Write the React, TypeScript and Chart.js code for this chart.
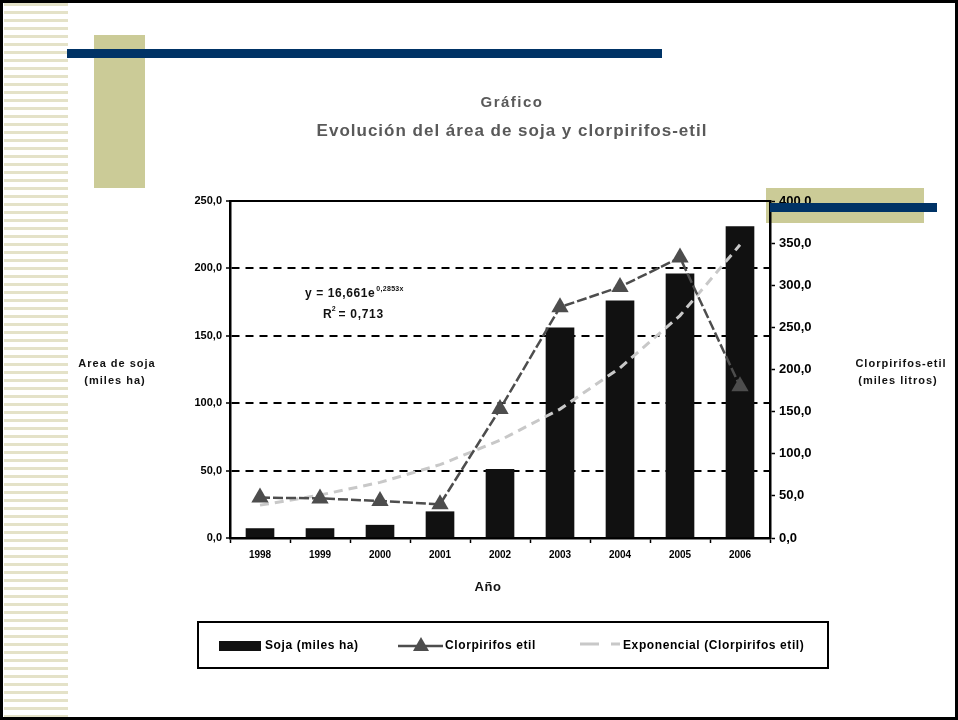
import React, { useEffect, useRef } from 'react';
import { Chart, registerables } from 'chart.js';

Chart.register(...registerables);

const years = ['1998', '1999', '2000', '2001', '2002', '2003', '2004', '2005', '2006'];
const sojaArea = [7, 7, 9.5, 19.5, 51, 156, 176, 196, 231];
const clorpirifos = [48, 47, 44, 40, 153, 274, 298, 333, 180];
const exponencial = [39, 51, 66, 87, 116, 153, 202, 264, 348];
const leftTicks = [0, 50, 100, 150, 200, 250];
const rightTicks = [0, 50, 100, 150, 200, 250, 300, 350, 400];
const titleLines = ['Gráfico', 'Evolución del área de soja y clorpirifos-etil'];
const leftTitle = ['Area de soja', '(miles ha)'];
const rightTitle = ['Clorpirifos-etil', '(miles litros)'];
const xTitle = 'Año';
const legendLabels = ['Soja (miles ha)', 'Clorpirifos etil', 'Exponencial (Clorpirifos etil)'];
const eqMain = 'y = 16,661e';
const eqExp = '0,2853x';
const r2Text = ['R', '2', ' = 0,713'];

const FONT = "'Liberation Sans', Arial, sans-serif";
const fmt = (v: number) => v.toFixed(1).replace('.', ',');

function txt(ctx: any, s: string, x: number, y: number, size: number, color: string, align: string, spacing = 0) {
  ctx.font = `bold ${size}px ${FONT}`;
  ctx.fillStyle = color;
  ctx.textAlign = align;
  ctx.textBaseline = 'middle';
  ctx.letterSpacing = `${spacing}px`;
  ctx.fillText(s, x, y);
  const w = ctx.measureText(s).width;
  ctx.letterSpacing = '0px';
  return w;
}

const overlayPlugin = {
  id: 'overlay',
  afterDraw(chart: any) {
    const ctx = chart.ctx;
    const { left, right, top } = chart.chartArea;
    ctx.save();
    // top frame of plot area
    ctx.strokeStyle = '#000';
    ctx.lineWidth = 2;
    ctx.beginPath();
    ctx.moveTo(left, top);
    ctx.lineTo(right, top);
    ctx.stroke();

    // titles
    txt(ctx, titleLines[0], 512, 103, 15, '#595959', 'center', 1.5);
    txt(ctx, titleLines[1], 512, 131, 17, '#595959', 'center', 1);

    // axis titles
    txt(ctx, leftTitle[0], 117, 364, 11, '#111', 'center', 1);
    txt(ctx, leftTitle[1], 115, 381, 11, '#111', 'center', 1);
    txt(ctx, rightTitle[0], 901, 364, 11, '#111', 'center', 1);
    txt(ctx, rightTitle[1], 898, 381, 11, '#111', 'center', 1);
    txt(ctx, xTitle, 488, 587, 13, '#111', 'center', 0.5);

    // trendline equation
    let w = txt(ctx, eqMain, 305, 294, 12, '#111', 'left', 0.6);
    txt(ctx, eqExp, 305 + w + 1, 289, 7, '#111', 'left', 0.3);
    w = txt(ctx, r2Text[0], 323, 315, 12, '#111', 'left', 0);
    const w2 = txt(ctx, r2Text[1], 323 + w, 309, 7, '#111', 'left', 0);
    txt(ctx, r2Text[2], 323 + w + w2 - 1, 315, 12, '#111', 'left', 0.7);

    // legend
    const ds = chart.data.datasets;
    ctx.strokeStyle = '#000';
    ctx.lineWidth = 2;
    ctx.strokeRect(198, 622, 630, 46);
    const ly = 646;
    ctx.fillStyle = ds[0].backgroundColor;
    ctx.fillRect(219, ly - 5, 42, 10);
    txt(ctx, legendLabels[0], 265, ly, 12, '#000', 'left', 0.6);

    ctx.strokeStyle = ds[1].borderColor;
    ctx.lineWidth = 2.5;
    ctx.setLineDash([]);
    ctx.beginPath();
    ctx.moveTo(398, ly);
    ctx.lineTo(443, ly);
    ctx.stroke();
    ctx.fillStyle = ds[1].pointBackgroundColor;
    ctx.beginPath();
    ctx.moveTo(421, ly - 9);
    ctx.lineTo(429, ly + 5);
    ctx.lineTo(413, ly + 5);
    ctx.closePath();
    ctx.fill();
    txt(ctx, legendLabels[1], 445, ly, 12, '#000', 'left', 0.6);

    ctx.strokeStyle = ds[2].borderColor;
    ctx.lineWidth = 3;
    ctx.setLineDash([19, 12]);
    ctx.beginPath();
    ctx.moveTo(580, ly - 2);
    ctx.lineTo(620, ly - 2);
    ctx.stroke();
    ctx.setLineDash([]);
    txt(ctx, legendLabels[2], 623, ly, 12, '#000', 'left', 0.6);

    ctx.restore();
  },
};

export default function App() {
  const ref = useRef<HTMLCanvasElement>(null);

  useEffect(() => {
    if (!ref.current) return;
    const chart = new Chart(ref.current, {
      type: 'bar',
      data: {
        labels: years,
        datasets: [
          {
            type: 'bar',
            label: legendLabels[0],
            data: sojaArea,
            backgroundColor: '#111111',
            borderWidth: 0,
            barThickness: 28,
            yAxisID: 'y',
            order: 3,
          },
          {
            type: 'line',
            label: legendLabels[1],
            data: clorpirifos,
            borderColor: '#4d4d4d',
            borderWidth: 2.5,
            borderDash: [10, 3],
            pointStyle: 'triangle',
            pointRadius: 10,
            pointBackgroundColor: '#4d4d4d',
            pointBorderWidth: 0,
            tension: 0,
            yAxisID: 'y1',
            order: 1,
          },
          {
            type: 'line',
            label: legendLabels[2],
            data: exponencial,
            borderColor: '#c8c8c8',
            borderWidth: 3,
            borderDash: [9, 6],
            pointRadius: 0,
            tension: 0,
            yAxisID: 'y1',
            order: 2,
          },
        ] as any,
      },
      options: {
        animation: false,
        responsive: false,
        maintainAspectRatio: false,
        layout: { padding: { left: 190, right: 138, top: 201, bottom: 152 } },
        plugins: {
          legend: { display: false },
          title: { display: false },
          tooltip: { enabled: false },
        },
        scales: {
          x: {
            type: 'category',
            offset: true,
            grid: {
              display: true,
              offset: true,
              drawOnChartArea: false,
              drawTicks: true,
              tickLength: 5,
              tickColor: '#000',
              tickWidth: 1.5,
              color: '#000',
            },
            border: { display: true, color: '#000', width: 2.5 },
            ticks: {
              color: '#000',
              font: { family: FONT, size: 10, weight: 'bold' },
              padding: 6,
              maxRotation: 0,
              autoSkip: false,
            },
            afterFit: (s: any) => { s.height = 30; },
          },
          y: {
            position: 'left',
            min: leftTicks[0],
            max: leftTicks[leftTicks.length - 1],
            ticks: {
              stepSize: leftTicks[1] - leftTicks[0],
              color: '#000',
              font: { family: FONT, size: 11, weight: 'bold' },
              padding: 4,
              callback: (v: any) => fmt(Number(v)),
            },
            grid: {
              color: (c: any) => (c.tick && (c.tick.value === leftTicks[0] || c.tick.value === leftTicks[leftTicks.length - 1]) ? 'rgba(0,0,0,0)' : '#000'),
              lineWidth: 2,
              tickLength: 4,
              tickColor: '#000',
              tickWidth: 1.5,
            },
            border: { display: true, color: '#000', width: 2.5, dash: [8, 6] },
            afterFit: (s: any) => { s.width = 40; },
          },
          y1: {
            position: 'right',
            min: rightTicks[0],
            max: rightTicks[rightTicks.length - 1],
            ticks: {
              stepSize: rightTicks[1] - rightTicks[0],
              color: '#000',
              font: { family: FONT, size: 13, weight: 'bold' },
              padding: 4,
              callback: (v: any) => fmt(Number(v)),
            },
            grid: {
              drawOnChartArea: false,
              tickLength: 5,
              tickColor: '#000',
              tickWidth: 1.5,
            },
            border: { display: true, color: '#000', width: 2.5 },
            afterFit: (s: any) => { s.width = 50; },
          },
        },
      } as any,
      plugins: [overlayPlugin],
    });
    return () => chart.destroy();
  }, []);

  const abs = (l: number, t: number, w: number, h: number, bg: string, z: number): React.CSSProperties => ({
    position: 'absolute', left: l, top: t, width: w, height: h, background: bg, zIndex: z,
  });

  return (
    <div style={{ position: 'absolute', left: 0, top: 0, width: 958, height: 720, background: '#fff', overflow: 'hidden' }}>
      <div style={abs(4, 3, 64, 714, 'repeating-linear-gradient(to bottom, #e4e2c8 0px, #e4e2c8 3px, #ffffff 3px, #ffffff 8px)', 0)} />
      <div style={abs(94, 35, 51, 153, '#cbcb97', 0)} />
      <div style={abs(766, 188, 158, 35, '#cbcb97', 0)} />
      <canvas ref={ref} width={958} height={720} style={{ position: 'absolute', left: 0, top: 0, width: 958, height: 720, zIndex: 1, display: 'block' }} />
      <div style={abs(67, 49, 595, 9, '#003366', 2)} />
      <div style={abs(770, 203, 167, 9, '#003366', 2)} />
      <div style={{ position: 'absolute', left: 0, top: 0, width: 958, height: 720, boxSizing: 'border-box', border: '3px solid #000', zIndex: 3, pointerEvents: 'none' }} />
    </div>
  );
}
